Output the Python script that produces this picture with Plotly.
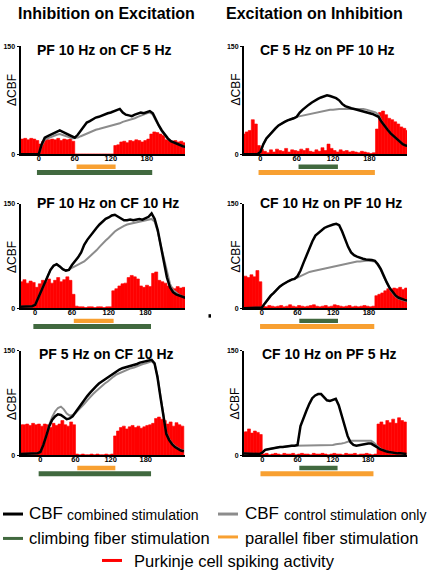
import plotly.graph_objects as go

W, H = 431, 577
FONT = "Liberation Sans, Arial, sans-serif"

# ---------------- data ----------------
HIST_T = [-32.5 + 5 * i for i in range(56)]      # histogram bin centres (s)
LINE_T = list(range(-35, 250, 5))                 # CBF sample times (s)
XTICKS = [0, 60, 120, 180]
YTICKS = [0, 150]
SHORT_STIM = [63, 128]
LONG_STIM = [-3, 189]

COLUMN_TITLES = ["Inhibition on Excitation", "Excitation on Inhibition"]
PANEL_TITLES = ["PF 10 Hz on CF 5 Hz", "CF 5 Hz on PF 10 Hz",
                "PF 10 Hz on CF 10 Hz", "CF 10 Hz on PF 10 Hz",
                "PF 5 Hz on CF 10 Hz", "CF 10 Hz on PF 5 Hz"]

RED_1 = [20, 21, 22, 20, 22, 21, 19,
         14, 18, 22, 20, 21, 20, 22, 19, 21, 20, 21, 18,
         0, 0, 0, 0, 0, 0, 0, 0, 0, 0, 0, 0, 0,
         12, 13, 17, 18, 16, 19, 18, 20, 19, 17, 19, 21, 28, 31, 30, 28, 26, 20, 19, 18, 19, 17, 18, 16]
BLACK_1 = [0, 0, 0, 0, 0, 0, 0,
           0, 14, 23, 25, 27, 30, 32, 33, 31, 29, 26, 24, 23, 27, 33, 39, 44, 46, 49, 51, 52, 54, 56, 57,
           58, 60, 62, 63, 58, 55, 54, 53, 55, 57, 58, 57, 59, 60, 57, 48, 40, 33, 27, 22, 18, 16, 14, 13, 11, 10]
GRAY_1 = [0, 0, 0, 0, 0, 0, 0,
          0, 12, 20, 22, 24, 26, 27, 28, 27, 26, 24, 22, 22, 23, 25, 27, 28, 30, 32, 34, 35, 36, 38, 39,
          40, 41, 42, 43, 45, 46, 47, 48, 50, 52, 54, 56, 57, 58, 55, 47, 39, 32, 26, 21, 18, 16, 14, 12, 11, 10]

RED_2 = [27, 28, 31, 33, 48, 42, 12,
         7, 4, 2, 6, 3, 7, 5, 4, 8, 3, 6, 5, 4, 7, 5, 8, 4, 3, 6, 4, 9, 5, 14, 8, 5, 3, 6, 4, 5, 3, 4, 3, 2, 4, 3, 2, 1, 2,
         35, 58, 60, 55, 50, 48, 45, 42, 38, 36, 33]
BLACK_2 = [0, 0, 0, 0, 0, 0, 0,
           3, 14, 22, 27, 32, 36, 40, 43, 45, 47, 48, 50, 52, 58, 62, 66, 69, 72, 75, 77, 79, 80, 82, 81,
           80, 78, 75, 70, 67, 65, 64, 63, 62, 61, 60, 59, 57, 56, 54, 52, 45, 39, 34, 29, 25, 21, 17, 14, 12, 11]
GRAY_2 = [0, 0, 0, 0, 0, 0, 0,
          3, 14, 22, 27, 32, 36, 40, 43, 45, 47, 48, 50, 52, 53, 54, 55, 56, 57, 58, 59, 60, 60, 61, 62,
          62, 63, 63, 63, 63, 64, 64, 63, 64, 63, 63, 62, 61, 60, 58, 55, 46, 40, 34, 29, 25, 21, 17, 14, 12, 11]

RED_3 = [40, 40, 38, 41, 36, 39, 37,
         30, 35, 40, 38, 42, 36, 40, 44, 38, 41, 45, 40,
         20,
         3, 2, 2, 1, 2, 2, 1, 2, 2, 1, 2, 2,
         25, 28, 32, 35, 36, 44, 47, 45, 42, 32, 30, 33, 31, 50, 52, 40, 38, 36, 32, 30, 28, 31, 29, 30]
BLACK_3 = [2, 2, 3, 2, 3, 2, 3,
           5, 15, 25, 37, 47, 55, 61, 63, 60, 56, 54, 55, 62, 67, 73, 80, 91, 98, 104, 110, 115, 120, 124, 128,
           130, 133, 134, 131, 128, 126, 126, 127, 126, 127, 128, 127, 129, 131, 136, 128, 112, 88, 66, 44, 30,
           23, 20, 18, 16, 15]
GRAY_3 = [2, 2, 3, 2, 3, 2, 3,
          5, 15, 25, 37, 47, 55, 61, 63, 60, 56, 54, 55, 58, 60, 62, 64, 67, 71, 75, 78, 83, 88, 93, 97,
          101, 106, 110, 113, 116, 118, 120, 121, 122, 123, 124, 125, 126, 127, 128, 124, 110, 90, 72, 50, 35,
          26, 22, 19, 17, 16]

RED_4 = [45, 46, 44, 48, 45, 54, 38,
         3, 2, 4, 3, 2, 3, 4, 2, 3, 5, 3, 2, 4, 3, 2, 3, 4, 5, 3, 2, 3, 4, 2, 3, 5, 4, 3, 2, 3, 4, 2, 3, 2, 3, 4, 3, 2, 3,
         18, 20, 22, 25, 28, 27, 29, 28, 30, 27, 29]
BLACK_4 = [0, 0, 0, 0, 0, 0, 0,
           1, 7, 13, 18, 22, 27, 31, 34, 37, 39, 41, 42, 46, 54, 65, 76, 87, 96, 104, 108, 112, 115, 117, 119,
           120, 121, 119, 110, 98, 88, 80, 76, 74, 72, 71, 70, 70, 69, 68, 63, 56, 46, 37, 29, 23, 18, 15, 13, 12, 11]
GRAY_4 = [0, 0, 0, 0, 0, 0, 0,
          1, 7, 13, 18, 22, 27, 31, 34, 37, 39, 41, 42, 44, 46, 48, 51, 52, 53, 54, 54, 55, 56, 57, 58,
          59, 60, 61, 62, 63, 64, 65, 66, 67, 67, 68, 68, 68, 68, 67, 62, 55, 45, 36, 28, 22, 17, 14, 12, 11, 10]

RED_5 = [44, 44, 45, 43, 46, 44, 45,
         42, 45, 44, 40, 46, 43, 45, 50, 44, 42, 48, 44,
         2, 1, 2, 1, 1, 2, 1, 2, 1, 1, 2, 1, 2,
         28, 35, 40, 42, 38, 41, 43, 40, 42, 39, 41, 43, 44, 46, 53, 55, 52, 50, 45, 48, 42, 47, 44, 42]
BLACK_5 = [2, 2, 2, 3, 2, 2, 3,
           5, 15, 28, 42, 51, 56, 59, 58, 55, 52, 53, 56, 62, 68, 73, 79, 85, 90, 95, 99, 103, 106, 109, 112,
           115, 118, 121, 123, 125, 126, 128, 129, 130, 131, 133, 134, 135, 136, 137, 132, 112, 84, 55, 31, 22,
           16, 12, 9, 7, 6]
GRAY_5 = [2, 2, 2, 3, 2, 2, 3,
          5, 15, 28, 44, 55, 63, 68, 70, 66, 60, 57, 58, 61, 65, 69, 74, 79, 84, 88, 92, 96, 100, 103, 106,
          110, 113, 116, 118, 120, 122, 124, 125, 126, 128, 130, 131, 132, 134, 135, 131, 114, 86, 57, 33, 23,
          17, 13, 10, 8, 7]

RED_6 = [33, 34, 38, 32, 35, 33, 30,
         2, 3, 1, 2, 3, 2, 1, 3, 2, 2, 3, 1, 2, 3, 2, 2, 1, 3, 2, 2, 3, 2, 1, 2, 3, 2, 2, 1, 3, 2, 2, 3, 1, 2, 2, 3, 2, 1, 2,
         45, 48, 44, 50, 47, 52, 46, 54, 50, 48]
BLACK_6 = [3, 3, 2, 3, 2, 3, 2,
           4, 8, 9, 10, 11, 12, 12, 12, 13, 13, 14, 14, 15, 42, 54, 64, 74, 82, 86, 88, 88, 84, 79, 78,
           80, 81, 72, 58, 42, 28, 19, 15, 14, 15, 16, 17, 17, 17, 15, 12, 9, 7, 6, 5, 4, 4, 3, 3, 2, 2]
GRAY_6 = [3, 3, 2, 3, 2, 3, 2,
          4, 8, 9, 10, 11, 12, 12, 12, 13, 13, 14, 14, 14, 14, 15, 14, 15, 15, 14, 15, 15, 15, 14, 15,
          15, 16, 16, 17, 18, 20, 21, 21, 21, 22, 21, 22, 21, 21, 18, 14, 10, 8, 6, 5, 4, 4, 3, 3, 2, 2]

REDS = [RED_1, RED_2, RED_3, RED_4, RED_5, RED_6]
BLACKS = [BLACK_1, BLACK_2, BLACK_3, BLACK_4, BLACK_5, BLACK_6]
GRAYS = [GRAY_1, GRAY_2, GRAY_3, GRAY_4, GRAY_5, GRAY_6]

# ---------------- styling / layout ----------------
C_RED = "#ff0000"
C_GREEN = "#41693f"
C_ORANGE = "#f8a031"
C_GRAY = "#8c8c8c"
C_BLACK = "#000000"

ROWS_PX = [(43, 152), (202, 308), (351, 457)]
COLS_PX = [(20.5, 185), (244, 407)]
XRANGES = [[-30.4, 243.6], [-27, 242], [-24, 244.5], [-30, 244], [-34, 247], [-31, 246]]
TITLE_POS = [(104, 47), (327, 47), (107.5, 201.5), (330.5, 201.5), (106, 354), (329, 354)]
YLABEL_POS = [(12, 87), (235.5, 87), (12, 256), (235.5, 256), (12, 405), (235.5, 405)]


def px(x):
    return x / W


def py(y):
    return 1 - y / H


fig = go.Figure()
layout = dict(
    width=W, height=H, margin=dict(l=0, r=0, t=0, b=0),
    paper_bgcolor="white", plot_bgcolor="white",
    showlegend=False, barmode="overlay",
    font=dict(family=FONT, color="black"),
)
shapes = []
annotations = []

for i in range(6):
    row, col = i // 2, i % 2
    n = "" if i == 0 else str(i + 1)
    xa, ya = "x" + n, "y" + n
    r0, r1 = ROWS_PX[row]
    c0, c1 = COLS_PX[col]
    hpx = r1 - r0

    fig.add_trace(go.Bar(x=HIST_T, y=REDS[i], width=5, xaxis=xa, yaxis=ya,
                         marker=dict(color=C_RED, line=dict(color=C_RED, width=0.6)),
                         hoverinfo="skip"))
    fig.add_trace(go.Scatter(x=LINE_T, y=GRAYS[i], mode="lines", xaxis=xa, yaxis=ya,
                             line=dict(color=C_GRAY, width=2), hoverinfo="skip"))
    fig.add_trace(go.Scatter(x=LINE_T, y=BLACKS[i], mode="lines", xaxis=xa, yaxis=ya,
                             line=dict(color=C_BLACK, width=2.5), hoverinfo="skip"))

    layout["xaxis" + n] = dict(
        domain=[px(c0), px(c1)], range=XRANGES[i], anchor=ya,
        showline=True, linecolor="black", linewidth=2,
        tickvals=XTICKS, ticks="", showgrid=False, zeroline=False,
        ticklabelstandoff=-4,
        tickfont=dict(family=FONT, size=7.5, color="black", weight="bold"),
    )
    layout["yaxis" + n] = dict(
        domain=[py(r1), py(r0)], range=[0, 150], anchor=xa,
        showline=True, linecolor="black", linewidth=2,
        tickvals=YTICKS, ticks="outside", ticklen=2, tickwidth=1.2, tickcolor="black",
        showgrid=False, zeroline=False,
        tickfont=dict(family=FONT, size=7, color="black", weight="bold"),
    )

    short_c, long_c = (C_ORANGE, C_GREEN) if col == 0 else (C_GREEN, C_ORANGE)
    shapes.append(dict(type="rect", xref=xa, yref=ya + " domain",
                       x0=SHORT_STIM[0], x1=SHORT_STIM[1],
                       y0=-15 / hpx, y1=-10.5 / hpx,
                       fillcolor=short_c, line=dict(width=0)))
    shapes.append(dict(type="rect", xref=xa, yref=ya + " domain",
                       x0=LONG_STIM[0], x1=LONG_STIM[1],
                       y0=-21 / hpx, y1=-16 / hpx,
                       fillcolor=long_c, line=dict(width=0)))

    tx, ty = TITLE_POS[i]
    annotations.append(dict(text="<b>" + PANEL_TITLES[i] + "</b>", x=px(tx), y=py(ty),
                            xref="paper", yref="paper", showarrow=False,
                            xanchor="center", yanchor="middle",
                            font=dict(family=FONT, size=14, color="black")))
    lx, ly = YLABEL_POS[i]
    annotations.append(dict(text="ΔCBF", x=px(lx), y=py(ly), xref="paper", yref="paper",
                            showarrow=False, textangle=-90, xanchor="center", yanchor="middle",
                            font=dict(family=FONT, size=12, color="black")))

# column titles
for txt, cx in zip(COLUMN_TITLES, [106, 314]):
    annotations.append(dict(text="<b>" + txt + "</b>", x=px(cx), y=py(10), xref="paper", yref="paper",
                            showarrow=False, xanchor="center", yanchor="middle",
                            font=dict(family=FONT, size=16, color="black")))

# stray dot
shapes.append(dict(type="rect", xref="paper", yref="paper", x0=px(208.5), x1=px(211),
                   y0=py(317.5), y1=py(314), fillcolor="black", line=dict(width=0)))

# legend (drawn as keys + text)
LEG_KEYS = [(3, 23, 516.3, C_BLACK), (218, 238, 516.3, C_GRAY),
            (3, 23, 541, C_GREEN), (218, 238, 539.5, C_ORANGE),
            (102, 122, 563.3, C_RED)]
for x0, x1, y, c in LEG_KEYS:
    shapes.append(dict(type="line", xref="paper", yref="paper", x0=px(x0), x1=px(x1),
                       y0=py(y), y1=py(y), line=dict(color=c, width=3)))

LEG_TEXT = [("CBF", 27, 516, 17), ("combined stimulation", 64.5, 517.5, 14),
            ("CBF", 243, 516, 17), ("control stimulation only", 281.5, 517.5, 14),
            ("climbing fiber stimulation", 27, 541, 16.5),
            ("parallel fiber stimulation", 243, 541, 16.5),
            ("Purkinje cell spiking activity", 132, 564, 16.5)]
for txt, x, y, s in LEG_TEXT:
    annotations.append(dict(text=txt, x=px(x), y=py(y), xref="paper", yref="paper",
                            showarrow=False, xanchor="left", yanchor="middle",
                            font=dict(family=FONT, size=s, color="black")))

layout["shapes"] = shapes
layout["annotations"] = annotations
fig.update_layout(**layout)
fig.write_html("out.html", config={"displayModeBar": False, "staticPlot": True},
               post_script="document.body.style.margin='0';document.body.style.overflow='hidden';")
